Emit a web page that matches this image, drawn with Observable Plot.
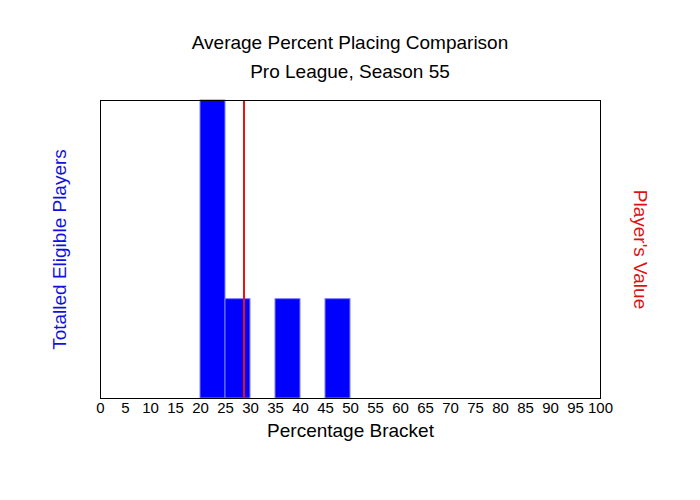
<!DOCTYPE html>
<html>
<head>
<meta charset="utf-8">
<script src="https://cdn.jsdelivr.net/npm/d3@7"></script>
<script src="https://cdn.jsdelivr.net/npm/@observablehq/plot@0.6"></script>
<style>
  html, body { margin: 0; padding: 0; background: #fff; }
  body { width: 700px; height: 500px; font-family: "Liberation Sans", Arial, sans-serif; }
  .title { position: absolute; left: 0; width: 700px; text-align: center; font-size: 19px; color: #000; line-height: 22px; }
  #t1 { top: 32px; }
  #t2 { top: 61px; }
  #chart { position: absolute; left: 0; top: 85px; }
</style>
</head>
<body>
<div class="title" id="t1">Average Percent Placing Comparison</div>
<div class="title" id="t2">Pro League, Season 55</div>
<div id="chart"></div>
<script>
const binStarts = [20, 25, 35, 45];
const binEnds = [25, 30, 40, 50];
const counts = [3, 1, 1, 1];
const playerValue = 28.7;
const xTicks = [0,5,10,15,20,25,30,35,40,45,50,55,60,65,70,75,80,85,90,95,100];
const xLabel = "Percentage Bracket";
const yLabelLeft = "Totalled Eligible Players";
const yLabelRight = "Player's Value";

const bins = binStarts.map((s, i) => ({x1: s, x2: binEnds[i], y: counts[i]}));

const chart = Plot.plot({
  width: 700,
  height: 415,
  marginLeft: 100,
  marginRight: 100,
  marginTop: 15,
  marginBottom: 102,
  style: { fontFamily: "Liberation Sans, Arial, sans-serif", fontSize: "15px", background: "white" },
  x: { domain: [0, 100] },
  y: { domain: [0, 3] },
  marks: [
    Plot.rectY(bins, {x1: "x1", x2: "x2", y: "y", fill: "#0000ff", stroke: "#7f7fff", strokeWidth: 1, inset: 0}),
    Plot.ruleX([playerValue], {stroke: "#ee1111", strokeWidth: 2}),
    Plot.frame({stroke: "black", strokeWidth: 1}),
    Plot.axisX(xTicks, {tickSize: 0, tickPadding: 4, fontSize: 15, fill: "black", label: null}),
    Plot.axisY({ticks: [], label: null}),
    Plot.text([xLabel], {frameAnchor: "bottom", dy: 38, fontSize: 19, fill: "black"}),
    Plot.text([yLabelLeft], {frameAnchor: "left", textAnchor: "middle", rotate: -90, dx: -41, fontSize: 19, fill: "#1111dd"}),
    Plot.text([yLabelRight], {frameAnchor: "right", textAnchor: "middle", rotate: 90, dx: 40, fontSize: 19, fill: "#dd1111"})
  ]
});
document.getElementById("chart").appendChild(chart);
</script>
</body>
</html>
